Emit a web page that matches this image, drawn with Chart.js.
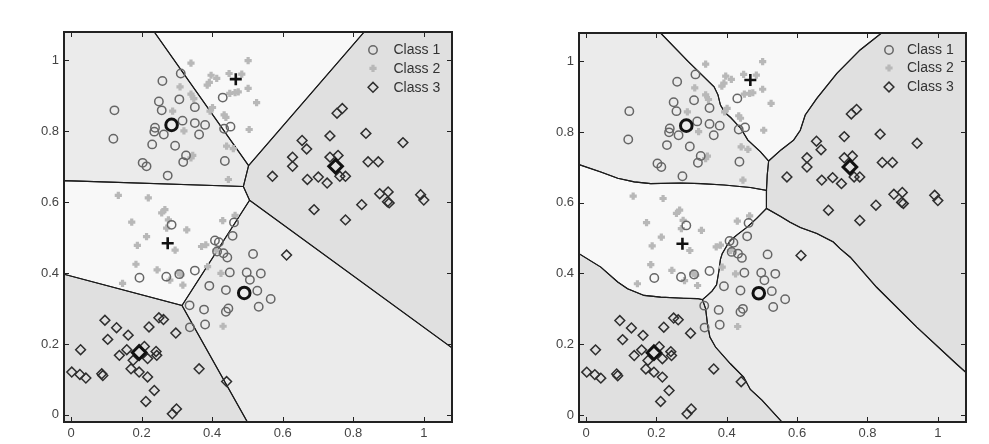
<!DOCTYPE html>
<html><head><meta charset="utf-8">
<script src="https://cdn.jsdelivr.net/npm/chart.js@4/dist/chart.umd.min.js"></script>
<style>
html,body{margin:0;padding:0;background:#fff;}
#wrap{position:relative;width:989px;height:444px;overflow:hidden;}
#c1{position:absolute;left:0;top:0;}
#c2{position:absolute;left:500px;top:0;}
</style></head><body>
<div id="wrap"><canvas id="c1" width="500" height="444"></canvas><canvas id="c2" width="489" height="444"></canvas></div>
<script>
// ---------------- data ----------------
const classNames = ['Class 1', 'Class 2', 'Class 3'];
const tickValues = [0, 0.2, 0.4, 0.6, 0.8, 1];
const tickLabels = ['0', '0.2', '0.4', '0.6', '0.8', '1'];

const class1X = [0.311,0.259,0.123,0.249,0.307,0.351,0.257,0.430,0.316,0.351,0.380,0.238,0.236,0.263,0.120,0.363,0.434,0.452,0.230,0.295,0.326,0.318,0.203,0.214,0.436,0.274,
  0.285,0.462,0.458,0.408,0.419,0.414,0.432,0.443,0.516,0.194,0.270,0.307,0.351,0.450,0.498,0.507,0.538,0.392,0.439,0.528,0.566,0.336,0.377,0.446,0.439,0.532,0.380,0.337];
const class1Y = [0.963,0.942,0.859,0.884,0.890,0.868,0.859,0.895,0.830,0.823,0.818,0.810,0.799,0.791,0.779,0.791,0.807,0.813,0.763,0.759,0.732,0.713,0.711,0.701,0.716,0.675,
  0.536,0.543,0.505,0.492,0.487,0.461,0.456,0.444,0.454,0.387,0.390,0.397,0.407,0.402,0.402,0.381,0.399,0.364,0.352,0.350,0.327,0.309,0.297,0.300,0.291,0.305,0.255,0.247];

const class2X = [0.340,0.502,0.397,0.413,0.392,0.386,0.448,0.484,0.502,0.526,0.309,0.340,0.348,0.450,0.465,0.474,0.401,0.394,0.434,0.439,0.288,0.320,0.505,0.441,0.460,0.345,0.340,0.446,
  0.134,0.219,0.266,0.257,0.172,0.276,0.271,0.328,0.214,0.188,0.295,0.370,0.382,0.411,0.184,0.244,0.304,0.312,0.280,0.317,0.146,0.387,0.425,0.431,0.430,0.465];
const class2Y = [0.992,0.999,0.958,0.949,0.938,0.930,0.963,0.961,0.921,0.881,0.925,0.905,0.892,0.907,0.909,0.911,0.867,0.857,0.846,0.839,0.857,0.801,0.805,0.758,0.751,0.732,0.725,0.664,
  0.619,0.612,0.579,0.570,0.544,0.550,0.527,0.522,0.503,0.478,0.465,0.475,0.480,0.465,0.425,0.409,0.401,0.395,0.380,0.366,0.371,0.418,0.399,0.250,0.548,0.563];

const class3X = [0.769,0.754,0.836,0.734,0.655,0.668,0.941,0.628,0.628,0.734,0.757,0.762,0.778,0.842,0.871,0.571,0.670,0.701,0.726,0.875,0.899,0.897,0.902,0.991,1.000,0.824,0.689,0.778,0.611,
  0.096,0.129,0.104,0.162,0.221,0.249,0.262,0.297,0.027,0.158,0.137,0.208,0.176,0.170,0.217,0.241,0.243,0.193,0.002,0.025,0.042,0.087,0.090,0.217,0.363,0.441,0.236,0.212,0.287,0.299];
const class3Y = [0.864,0.851,0.794,0.787,0.774,0.750,0.768,0.727,0.701,0.727,0.732,0.673,0.673,0.714,0.714,0.673,0.664,0.671,0.654,0.624,0.629,0.601,0.598,0.621,0.606,0.593,0.579,0.550,0.451,
  0.267,0.246,0.213,0.225,0.248,0.274,0.269,0.231,0.184,0.184,0.168,0.193,0.154,0.130,0.159,0.179,0.168,0.121,0.121,0.114,0.104,0.116,0.111,0.107,0.130,0.094,0.069,0.038,0.003,0.017];

// prototypes (two per class)
const protoX = [0.285, 0.491, 0.467, 0.274, 0.750, 0.193];
const protoY = [0.818, 0.344, 0.947, 0.484, 0.701, 0.176];
const protoClass = [0, 0, 1, 1, 2, 2];

// right panel: traced decision boundary curves
const bA_x = [0.212,0.290,0.364,0.375,0.382,0.395,0.411,0.440,0.460,0.496,0.519];
const bA_y = [1.080,1.000,0.928,0.905,0.876,0.855,0.841,0.810,0.777,0.744,0.718];
const bB_x = [0.519,0.555,0.590,0.609,0.623,0.656,0.713,0.779,0.840];
const bB_y = [0.718,0.750,0.777,0.805,0.848,0.895,0.966,1.032,1.080];
const bC_x = [0.519,0.515,0.513];
const bC_y = [0.718,0.678,0.635];
const bD_x = [-0.020,0.042,0.090,0.137,0.184,0.269,0.326,0.392,0.467,0.513];
const bD_y = [0.708,0.687,0.669,0.659,0.654,0.656,0.654,0.650,0.643,0.635];
const bE_x = [0.513,0.512,0.513];
const bE_y = [0.635,0.610,0.584];
const bF_x = [0.513,0.552,0.580,0.609,0.656,0.703,0.722,0.751,0.826,0.940,1.053,1.080];
const bF_y = [0.584,0.562,0.545,0.530,0.513,0.489,0.470,0.446,0.361,0.248,0.144,0.120];
const bG_x = [0.513,0.485,0.458,0.430,0.411,0.401,0.387,0.382,0.378,0.371,0.358,0.345,0.331];
const bG_y = [0.584,0.556,0.531,0.510,0.494,0.480,0.456,0.440,0.409,0.368,0.350,0.338,0.326];
const bH_x = [-0.020,0.042,0.090,0.118,0.165,0.212,0.278,0.316,0.331];
const bH_y = [0.456,0.418,0.376,0.357,0.338,0.333,0.330,0.329,0.326];
const bI_x = [0.331,0.340,0.345,0.352,0.368,0.411,0.448,0.467,0.500,0.557];
const bI_y = [0.326,0.300,0.258,0.220,0.192,0.144,0.107,0.072,0.042,-0.020];

// ---------------- styles ----------------
const X_MIN = -0.02, X_MAX = 1.08, Y_MIN = -0.02, Y_MAX = 1.08;
const regionColors = ['#ebebeb', '#f8f8f8', '#e0e0e0'];
const FONT = '"Liberation Sans", Arial, Helvetica, sans-serif';

const pts = (xs, ys) => xs.map((x, i) => ({x, y: ys[i]}));
const curve = (xs, ys) => xs.map((x, i) => [x, ys[i]]);
const rev = a => a.slice().reverse();

// Voronoi cell of prototype i clipped to the axes box
function clipHalf(poly, a, b, c) {
  const out = [];
  for (let i = 0; i < poly.length; i++) {
    const P = poly[i], Q = poly[(i + 1) % poly.length];
    const fp = a * P[0] + b * P[1] - c, fq = a * Q[0] + b * Q[1] - c;
    if (fp <= 0) out.push(P);
    if ((fp < 0 && fq > 0) || (fp > 0 && fq < 0)) {
      const t = fp / (fp - fq);
      out.push([P[0] + t * (Q[0] - P[0]), P[1] + t * (Q[1] - P[1])]);
    }
  }
  return out;
}
function voronoiCell(i) {
  let poly = [[X_MIN, Y_MIN], [X_MAX, Y_MIN], [X_MAX, Y_MAX], [X_MIN, Y_MAX]];
  for (let j = 0; j < protoX.length; j++) {
    if (j === i) continue;
    const a = 2 * (protoX[j] - protoX[i]), b = 2 * (protoY[j] - protoY[i]);
    const c = protoX[j] ** 2 + protoY[j] ** 2 - protoX[i] ** 2 - protoY[i] ** 2;
    poly = clipHalf(poly, a, b, c);
  }
  return poly;
}

function regionDataset(poly, cls) {
  const closed = poly.concat([poly[0]]);
  return {
    isRegion: true, regionColor: regionColors[cls],
    data: closed.map(([x, y]) => ({x, y})),
    showLine: true, fill: false, tension: 0,
    borderColor: '#1c1c1c', borderWidth: 1.1,
    pointRadius: 0, pointHoverRadius: 0, order: 10
  };
}

function pointDatasets() {
  return [
    {label: classNames[0], data: pts(class1X, class1Y), pointStyle: 'circle', pointRadius: 4.2,
     pointBorderWidth: 1.5, pointBorderColor: '#666', pointBackgroundColor: 'rgba(0,0,0,0)', showLine: false, order: 3},
    {label: classNames[1], data: pts(class2X, class2Y), pointStyle: 'cross', pointRadius: 3.6,
     pointBorderWidth: 3.2, pointBorderColor: '#b8b8b8', pointBackgroundColor: '#b8b8b8', showLine: false, order: 4},
    {label: classNames[2], data: pts(class3X, class3Y), pointStyle: 'rectRot', pointRadius: 4.9,
     pointBorderWidth: 1.5, pointBorderColor: '#2e2e2e', pointBackgroundColor: 'rgba(0,0,0,0)', showLine: false, order: 2},
    {label: 'p1', data: pts(protoX.filter((_, i) => protoClass[i] === 0), protoY.filter((_, i) => protoClass[i] === 0)),
     pointStyle: 'circle', pointRadius: 5.8, pointBorderWidth: 3, pointBorderColor: '#111', pointBackgroundColor: 'rgba(0,0,0,0)', showLine: false, order: 0},
    {label: 'p2', data: pts(protoX.filter((_, i) => protoClass[i] === 1), protoY.filter((_, i) => protoClass[i] === 1)),
     pointStyle: 'cross', pointRadius: 6, pointBorderWidth: 2.6, pointBorderColor: '#111', showLine: false, order: 0},
    {label: 'p3', data: pts(protoX.filter((_, i) => protoClass[i] === 2), protoY.filter((_, i) => protoClass[i] === 2)),
     pointStyle: 'rectRot', pointRadius: 6.8, pointBorderWidth: 3, pointBorderColor: '#111', pointBackgroundColor: 'rgba(0,0,0,0)', showLine: false, order: 0}
  ];
}

// ---------------- plugins ----------------
const regionFill = {
  id: 'regionFill',
  beforeDatasetsDraw(chart) {
    const ctx = chart.ctx, a = chart.chartArea;
    ctx.save();
    ctx.beginPath(); ctx.rect(a.left, a.top, a.right - a.left, a.bottom - a.top); ctx.clip();
    chart.data.datasets.forEach((ds, i) => {
      if (!ds.isRegion) return;
      const el = chart.getDatasetMeta(i).data;
      ctx.beginPath();
      el.forEach((p, k) => k ? ctx.lineTo(p.x, p.y) : ctx.moveTo(p.x, p.y));
      ctx.closePath();
      ctx.fillStyle = ds.regionColor;
      ctx.fill();
    });
    ctx.restore();
  }
};

const frameTicks = {
  id: 'frameTicks',
  afterDatasetsDraw(chart) {
    const {ctx, chartArea: a, scales: {x, y}} = chart;
    ctx.save();
    ctx.strokeStyle = '#222'; ctx.lineWidth = 1;
    ctx.beginPath();
    tickValues.forEach(v => {
      const px = Math.round(x.getPixelForValue(v)) + 0.5;
      ctx.moveTo(px, a.bottom); ctx.lineTo(px, a.bottom - 5);
      ctx.moveTo(px, a.top); ctx.lineTo(px, a.top + 5);
      const py = Math.round(y.getPixelForValue(v)) + 0.5;
      ctx.moveTo(a.left, py); ctx.lineTo(a.left + 5, py);
      ctx.moveTo(a.right, py); ctx.lineTo(a.right - 5, py);
    });
    ctx.stroke();
    ctx.lineWidth = 2;
    ctx.strokeRect(a.left, a.top, a.right - a.left, a.bottom - a.top);
    ctx.restore();
  }
};

function drawMarker(ctx, ds, x, y) {
  ctx.lineWidth = ds.pointBorderWidth;
  ctx.strokeStyle = ds.pointBorderColor;
  ctx.fillStyle = ds.pointBackgroundColor || 'rgba(0,0,0,0)';
  if (Chart.helpers && Chart.helpers.drawPoint) {
    Chart.helpers.drawPoint(ctx, {pointStyle: ds.pointStyle, radius: ds.pointRadius, borderWidth: ds.pointBorderWidth, rotation: 0}, x, y);
  }
}

const classLegend = {
  id: 'classLegend',
  afterDraw(chart, args, opts) {
    const ctx = chart.ctx, a = chart.chartArea;
    ctx.save();
    classNames.forEach((name, i) => {
      const ds = chart.data.datasets[i];
      const y = a.top + opts.rows[i];
      drawMarker(ctx, ds, a.right - opts.markerInset, y);
      ctx.font = '14px ' + FONT;
      ctx.fillStyle = '#333';
      ctx.textBaseline = 'middle';
      ctx.textAlign = 'left';
      ctx.fillText(name, a.right - opts.textInset, y + 0.5);
    });
    ctx.restore();
  }
};

function makeScales() {
  const common = (isX) => ({
    type: 'linear',
    min: isX ? X_MIN : Y_MIN, max: isX ? X_MAX : Y_MAX,
    afterBuildTicks: s => { s.ticks = tickValues.map(v => ({value: v})); },
    afterFit: s => { if (isX) s.height = 22; else s.width = 40; },
    ticks: {
      autoSkip: false, maxRotation: 0, padding: isX ? 4 : 5,
      color: '#444', font: {family: FONT, size: 13},
      callback: v => tickLabels[tickValues.indexOf(v)]
    },
    grid: {display: false, drawTicks: false},
    border: {display: false}
  });
  return {x: common(true), y: common(false)};
}

function makeChart(id, regions, padding, legendOpts) {
  return new Chart(document.getElementById(id), {
    type: 'scatter',
    data: {datasets: pointDatasets().concat(regions)},
    options: {
      responsive: false, animation: false, events: [],
      layout: {padding},
      scales: makeScales(),
      plugins: {legend: {display: false}, tooltip: {enabled: false}, classLegend: legendOpts}
    },
    plugins: [regionFill, frameTicks, classLegend]
  });
}

// left panel: nearest-prototype (Voronoi) regions
const leftRegions = protoX.map((_, i) => regionDataset(voronoiCell(i), protoClass[i]));

// right panel: regions assembled from traced boundary curves
const A = curve(bA_x, bA_y), B = curve(bB_x, bB_y), C = curve(bC_x, bC_y), D = curve(bD_x, bD_y),
      E = curve(bE_x, bE_y), F = curve(bF_x, bF_y), G = curve(bG_x, bG_y), H = curve(bH_x, bH_y), I = curve(bI_x, bI_y);
const rightPolys = [
  [[[X_MIN, Y_MAX]], A, C, rev(D)].flat(),                                  // class 1 (top)
  [A, B].flat(),                                                            // class 2 (top)
  [B, [[X_MAX, Y_MAX]], rev(F), rev(E), rev(C)].flat(),                     // class 3 (right)
  [D, E, G, rev(H)].flat(),                                                 // class 2 (middle)
  [H, I, [[X_MIN, Y_MIN]]].flat(),                                          // class 3 (bottom-left)
  [F, [[X_MAX, Y_MIN]], rev(I), rev(G)].flat()                              // class 1 (bottom)
];
const rightClasses = [0, 1, 2, 1, 2, 0];
const rightRegions = rightPolys.map((p, i) => regionDataset(p, rightClasses[i]));

makeChart('c1', leftRegions, {left: 24, top: 32, right: 48, bottom: 0},
  {markerInset: 79, textInset: 58.5, rows: [18, 36.3, 55.3]});
makeChart('c2', rightRegions, {left: 39, top: 33, right: 23, bottom: 0},
  {markerInset: 77, textInset: 59, rows: [17, 35, 54]});
</script>
</body></html>
